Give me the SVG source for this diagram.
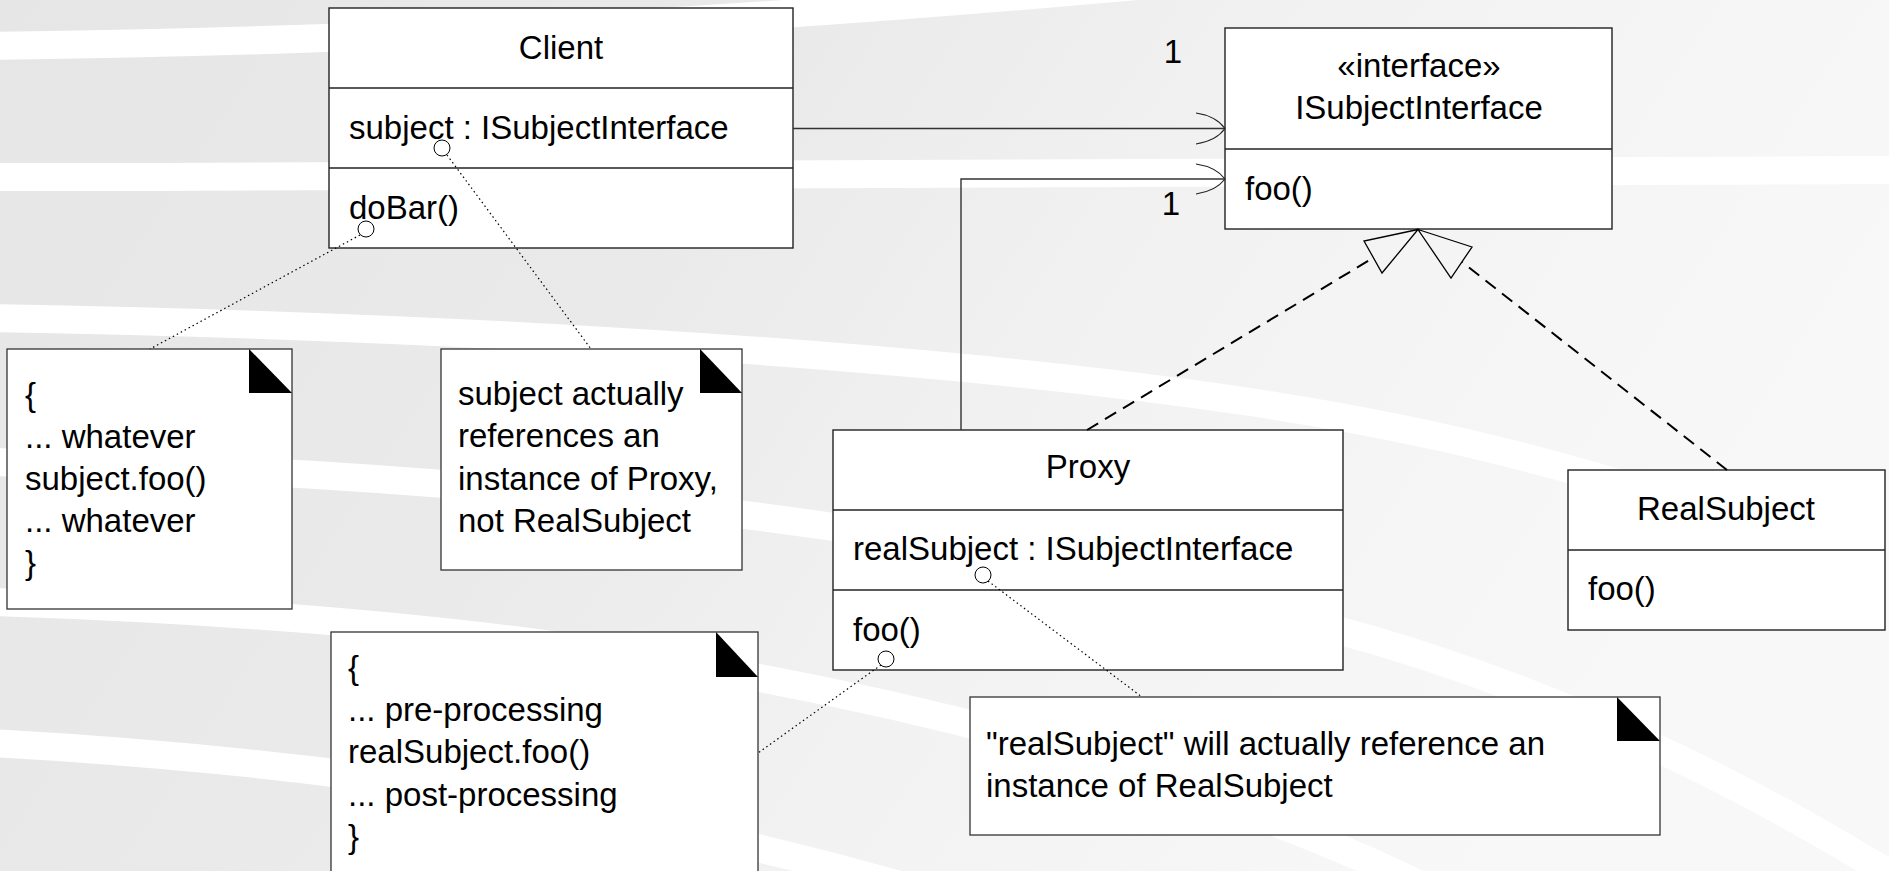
<svg xmlns="http://www.w3.org/2000/svg" width="1889" height="871" viewBox="0 0 1889 871">
<defs>
<linearGradient id="bg" x1="0" y1="0" x2="1" y2="0.3">
<stop offset="0" stop-color="#e6e6e6"/>
<stop offset="0.4" stop-color="#eaeaea"/>
<stop offset="0.65" stop-color="#f2f2f2"/>
<stop offset="1" stop-color="#f8f8f8"/>
</linearGradient>
<style>
.band{fill:none;stroke:#ffffff;stroke-width:28}
.box{fill:#ffffff;stroke:#222222;stroke-width:1.4}
.div{stroke:#222222;stroke-width:1.4}
.note{fill:#ffffff;stroke:#333333;stroke-width:1.3}
.fold{fill:#000000}
text{font-family:"Liberation Sans",Arial,Helvetica,sans-serif;font-size:33px;fill:#000000}
.c{text-anchor:middle}
.assoc{fill:none;stroke:#333333;stroke-width:1.4}
.head{fill:none;stroke:#222222;stroke-width:1.2}
.real{fill:none;stroke:#000000;stroke-width:2;stroke-dasharray:13 8}
.tri{fill:none;stroke:#000000;stroke-width:1.3}
.dot{fill:none;stroke:#000000;stroke-width:1.2;stroke-dasharray:1.5 3}
.anchor{fill:none;stroke:#000000;stroke-width:1}
</style>
</defs>
<g id="background">
<rect x="0" y="0" width="1889" height="871" fill="url(#bg)"/>
<path class="band" d="M -10 46 C 300 42 650 30 1160 -16"/>
<path class="band" d="M -10 177 C 600 177 1200 176 1900 170"/>
<path class="band" d="M -10 318 C 400 325 900 350 1250 402 C 1450 432 1600 475 1700 510"/>
<path class="band" d="M -10 462 C 400 470 900 510 1330 628 C 1600 700 1800 820 1900 880"/>
<path class="band" d="M -10 602 C 300 612 700 640 1100 760 C 1250 810 1350 850 1420 885"/>
<path class="band" d="M -10 743 C 300 760 600 800 900 885"/>
</g>
<g id="client">
<rect class="box" x="329" y="8" width="464" height="240"/>
<line class="div" x1="329" y1="88" x2="793" y2="88"/>
<line class="div" x1="329" y1="168" x2="793" y2="168"/>
<text class="c" x="561" y="59">Client</text>
<text x="349" y="139">subject : ISubjectInterface</text>
<text x="349" y="219">doBar()</text>
</g>
<g id="isubjectinterface">
<rect class="box" x="1225" y="28" width="387" height="201"/>
<line class="div" x1="1225" y1="149" x2="1612" y2="149"/>
<text class="c" x="1419" y="77">«interface»</text>
<text class="c" x="1419" y="119">ISubjectInterface</text>
<text x="1245" y="200">foo()</text>
</g>
<g id="proxy">
<rect class="box" x="833" y="430" width="510" height="240"/>
<line class="div" x1="833" y1="510" x2="1343" y2="510"/>
<line class="div" x1="833" y1="590" x2="1343" y2="590"/>
<text class="c" x="1088" y="478">Proxy</text>
<text x="853" y="560">realSubject : ISubjectInterface</text>
<text x="853" y="641">foo()</text>
</g>
<g id="realsubject">
<rect class="box" x="1568" y="470" width="317" height="160"/>
<line class="div" x1="1568" y1="550" x2="1885" y2="550"/>
<text class="c" x="1726" y="520">RealSubject</text>
<text x="1588" y="600">foo()</text>
</g>
<g id="note-dobar">
<rect class="note" x="7" y="349" width="285" height="260"/>
<polygon class="fold" points="249,349 249,393 292,393"/>
<text x="25" y="406">{</text>
<text x="25" y="448">... whatever</text>
<text x="25" y="490">subject.foo()</text>
<text x="25" y="532">... whatever</text>
<text x="25" y="574">}</text>
</g>
<g id="note-subject">
<rect class="note" x="441" y="349" width="301" height="221"/>
<polygon class="fold" points="700,349 700,393 742,393"/>
<text x="458" y="405">subject actually</text>
<text x="458" y="447">references an</text>
<text x="458" y="490">instance of Proxy,</text>
<text x="458" y="532">not RealSubject</text>
</g>
<g id="note-realsubject">
<rect class="note" x="970" y="697" width="690" height="138"/>
<polygon class="fold" points="1617,697 1617,741 1660,741"/>
<text x="986" y="755">"realSubject" will actually reference an</text>
<text x="986" y="797">instance of RealSubject</text>
</g>
<g id="note-foo">
<rect class="note" x="331" y="632" width="427" height="260"/>
<polygon class="fold" points="716,632 716,677 758,677"/>
<text x="348" y="679">{</text>
<text x="348" y="721">... pre-processing</text>
<text x="348" y="763">realSubject.foo()</text>
<text x="348" y="806">... post-processing</text>
<text x="348" y="848">}</text>
</g>
<g id="connectors">
<line class="assoc" x1="793" y1="128.5" x2="1225" y2="128.5"/>
<path class="head" d="M 1196 113 Q 1216 116 1225 128.5 M 1196 144 Q 1216 141 1225 128.5"/>
<polyline class="assoc" points="961,430 961,179 1225,179"/>
<path class="head" d="M 1196 164 Q 1216 167 1225 179 M 1196 194 Q 1216 191 1225 179"/>
<text class="c" x="1173" y="63">1</text>
<text class="c" x="1171" y="215">1</text>
<line class="real" x1="1087" y1="430" x2="1373" y2="258"/>
<line class="real" x1="1727" y1="470" x2="1462" y2="262"/>
<polygon class="tri" points="1418,229.5 1364,241 1382,273"/>
<polygon class="tri" points="1418,229.5 1472,247 1451,278"/>
<circle class="anchor" cx="442" cy="148" r="8"/>
<circle class="anchor" cx="366" cy="229" r="8"/>
<circle class="anchor" cx="983" cy="575" r="8"/>
<circle class="anchor" cx="886" cy="659" r="8"/>
<line class="dot" x1="447" y1="155" x2="591" y2="349"/>
<line class="dot" x1="360" y1="235" x2="150" y2="349"/>
<line class="dot" x1="988" y1="581" x2="1142" y2="697"/>
<line class="dot" x1="881" y1="665" x2="758" y2="753"/>
</g>
</svg>
